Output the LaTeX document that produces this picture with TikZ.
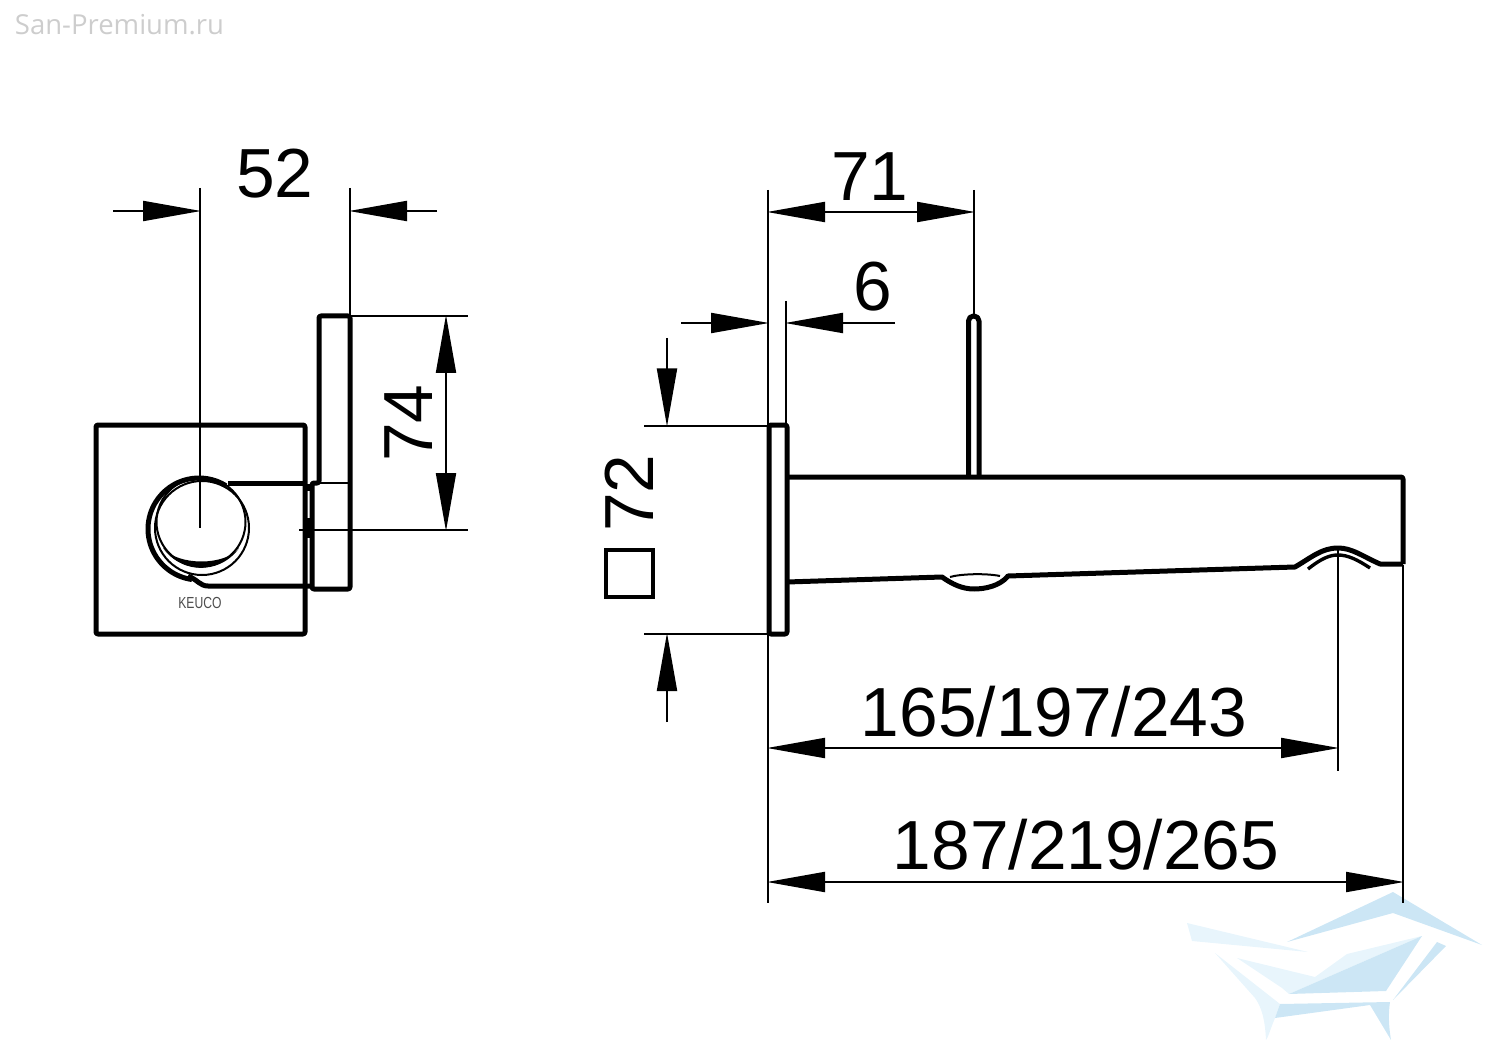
\documentclass[tikz,border=0pt]{standalone}
\usepackage{fontspec}
\setmainfont{Liberation Sans}
\newfontfamily\markfont{Open Sans}
\usepackage{xcolor}
\usepackage{tikz}
\usetikzlibrary{arrows.meta,calc}
\definecolor{logodark}{RGB}{204,230,245}
\definecolor{logolight}{RGB}{232,245,252}
\definecolor{markgray}{RGB}{205,205,205}

\begin{document}
\begin{tikzpicture}[
		x=1pt, y=-1pt,
		body/.style={draw, line width=5pt, line join=round, rounded corners=2pt},
		thin line/.style={draw, line width=2pt},
		extline/.style={draw, line width=2pt},
		dimboth/.style={extline, {Triangle[length=58pt,width=20pt]}-{Triangle[length=58pt,width=20pt]}},
		dimtip/.style={extline, -{Triangle[length=58pt,width=20pt]}},
		num/.style={font=\fontsize{69.5}{70}\selectfont, inner sep=0pt}
		]
		\useasboundingbox (0,0) rectangle (1500,1059);
		
		% ===== watermark =====
		\node[font=\markfont\fontsize{27.5}{28}\selectfont, text=markgray, inner sep=0pt] (mark) at (119.5,25) {San-Premium.ru};
		
		\fill[logodark] (1287,942) -- (1393,892) -- (1482,945) -- (1393,913) -- cycle;
		\fill[logolight] (1187,923) -- (1308,952) -- (1192,941) -- cycle;
		\fill[logolight] (1237,958) -- (1315,977) -- (1347,954) -- (1422,936) -- (1289,994) -- (1282,988) -- cycle;
		\fill[logodark] (1289,994) -- (1422,936) -- (1386,991) -- cycle;
		\fill[logodark] (1437,942) -- (1446,946) -- (1393,1000) -- cycle;
		\fill[logolight] (1215,953) -- (1280,1004) -- (1275,1018) .. controls (1270,1030) and (1268,1038) .. (1266,1040) .. controls (1265,1020) and (1262,1008) .. (1255,998) -- cycle;
		\fill[logodark] (1280,1004) -- (1390,1002) .. controls (1388,1015) and (1389,1028) .. (1391,1040) -- (1370,1005) -- (1275,1018) -- cycle;
		
		% ===== left view =====
		\draw[body] (96,425) rectangle (305,634);
		\draw[body] (312,589) -- (312,483) -- (319,483) -- (319,316) -- (350,316) -- (350,589) -- cycle;
		\draw[thin line] (319,483) -- (350,483);
		\draw[body, rounded corners=0pt] (228,483) -- (305,483);
		\draw[body, rounded corners=0pt] (310,586) -- (208,586) .. controls (200,586) and (198,580) .. (188,576);
		\draw[line width=4pt] (308,518) -- (308,538);
		\draw[line width=3pt] (308,484) -- (308,491);
		
		% knob
		\draw[line width=5pt] (199,529) ++(58:51pt) arc[start angle=58, end angle=262, radius=51pt];
		\draw[thin line] (202,528) circle[radius=47pt];
		\draw[thin line] (201,522) circle[radius=44.5pt];
		\fill (163,548) arc[start angle=215, end angle=325, radius=46.5pt] .. controls (225,566) and (178,566) .. cycle;
		\node[font=\fontsize{16}{16}\selectfont, text=black!70, xscale=0.76, inner sep=0pt] (logo) at (200,602.5) {KEUCO};
		
		% ===== right view =====
		\draw[body] (769,634) rectangle (787,425);
		\draw[body, rounded corners=5pt] (968.5,477) -- (968.5,316) -- (979,316) -- (979,477);
		\draw[body] (787,477) -- (1403,477) -- (1403,564);
		\draw[body, rounded corners=0pt] (1403,564) -- (1380,564) .. controls (1362,556) and (1352,548) .. (1338,548) .. controls (1322,548) and (1312,557) .. (1295,567) -- (1008,576) .. controls (1000,586) and (985,589) .. (974,589) .. controls (962,589) and (952,584) .. (942,577) -- (787,582);
		\draw[thin line] (950,577) .. controls (960,574) and (985,573) .. (1000,576);
		\draw[line width=3.4pt] (1308,569) .. controls (1322,558) and (1330,555) .. (1338,555) .. controls (1348,555) and (1358,560) .. (1370,568);
		
		% ===== dimension 52 =====
		\draw[extline] (200,188) -- (200,528);
		\draw[extline] (350,188) -- (350,316);
		\draw[dimtip] (113,211) -- (201,211);
		\draw[dimtip] (437,211) -- (349,211);
		\node[num] (lab52) at (275,174) {52};
		
		% ===== dimension 74 =====
		\draw[extline] (350,316) -- (468,316);
		\draw[extline] (299,530) -- (468,530);
		\draw[dimboth] (446,315) -- (446,531);
		\node[num, rotate=90] (lab74) at (409,423) {74};
		
		% ===== dimensions 71 and 6 =====
		\draw[extline] (768,190) -- (768,903);
		\draw[extline] (786,301) -- (786,425);
		\draw[extline] (974,190) -- (974,316);
		\draw[dimboth] (767,212) -- (975,212);
		\node[num] (lab71) at (870,177) {71};
		\draw[dimtip] (681,323) -- (769,323);
		\draw[dimtip] (895,323) -- (785,323);
		\node[num] (lab6) at (873,287) {6};
		
		% ===== dimension 72 =====
		\draw[extline] (644,425.5) -- (769,425.5);
		\draw[extline] (644,634) -- (769,634);
		\draw[dimtip] (667,338) -- (667,426.5);
		\draw[dimtip] (667,722) -- (667,633);
		\node[num, rotate=90] (lab72) at (629,493) {72};
		\node[draw, line width=4pt, minimum size=47pt, inner sep=0pt] (square) at (629.5,573.5) {};
		
		% ===== lengths =====
		\draw[extline] (1338,550) -- (1338,771);
		\draw[extline] (1403,565) -- (1403,903);
		\draw[dimboth] (767,748) -- (1339,748);
		\node[num] (labshort) at (1054,712) {165/197/243};
		\draw[dimboth] (767,882) -- (1404,882);
		\node[num] (lablong) at (1086,845) {187/219/265};
		
	\end{tikzpicture}
\end{document}
